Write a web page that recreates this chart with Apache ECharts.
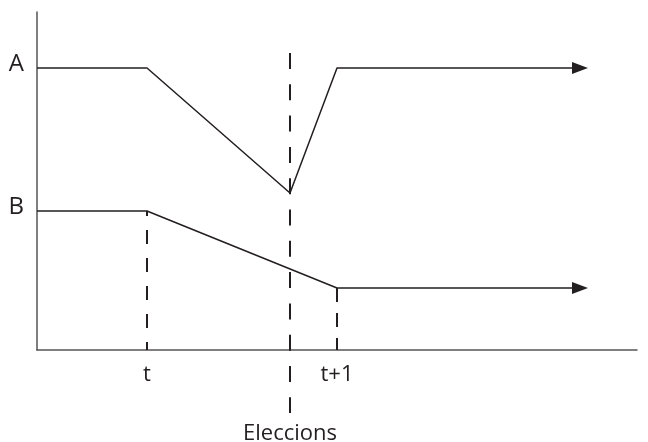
<!DOCTYPE html>
<html>
<head>
<meta charset="utf-8">
<script src="https://cdn.jsdelivr.net/npm/echarts@6/dist/echarts.min.js"></script>
<style>html,body{margin:0;padding:0;background:#fff}#c{width:648px;height:442px}</style>
</head>
<body>
<div id="c"></div>
<script>
// Data (chart units)
const seriesNames = ['A', 'B'];
const lineA = [[0, 28.2], [11, 28.2], [25.3, 15.7], [30, 28.2], [54.3, 28.2]];
const lineB = [[0, 13.9], [11, 13.9], [30, 6.2], [54.3, 6.2]];
const markerNames = ['t', 'Eleccions', 't+1'];
const markerX = [11, 25.3, 30];
const markerTop = [13.9, 29.7, 6.2];
const markerBottom = [0, -6.3, 0];

const INK = '#231f20';
const FONT = 'Open Sans';

function arrowLine(name, pts) {
  return {
    type: 'line', name: name, silent: true, clip: false,
    symbol: 'circle', symbolSize: 0.1, showSymbol: true,
    lineStyle: { color: INK, width: 1.5 },
    itemStyle: { color: INK },
    data: pts.map(function (p, i) {
      const item = { value: p };
      if (i === 0) {
        item.label = { show: true, position: 'left', distance: 13, formatter: name,
          fontFamily: FONT, fontSize: 24, color: INK, offset: [0, -4] };
      }
      if (i === pts.length - 1) {
        item.symbol = 'triangle'; item.symbolSize = [12, 16]; item.symbolRotate = -90;
      }
      return item;
    })
  };
}

const dashStyles = [
  { dash: [14, 14], offset: 9 },
  { dash: [16, 15.3], offset: 0 },
  { dash: [14, 11], offset: 0 }
];

const dashSeries = markerNames.map(function (n, i) {
  return {
    type: 'line', silent: true, clip: false, symbol: 'circle', symbolSize: 0.1, showSymbol: true,
    itemStyle: { color: INK },
    lineStyle: { color: INK, width: 2, type: dashStyles[i].dash, dashOffset: dashStyles[i].offset },
    data: [
      { value: [markerX[i], markerTop[i]] },
      { value: [markerX[i], markerBottom[i]],
        label: { show: true, position: 'bottom', distance: i === 1 ? 10 : 14, formatter: n,
          fontFamily: FONT, fontSize: 22, color: INK } }
    ]
  };
});

const chart = echarts.init(document.getElementById('c'), null, { renderer: 'canvas' });
chart.setOption({
  animation: false,
  backgroundColor: '#fff',
  grid: { left: 37, right: 11, top: 12, bottom: 92 },
  xAxis: {
    type: 'value', min: 0, max: 60,
    axisLine: { show: true, lineStyle: { color: '#555', width: 1.5 } },
    axisTick: { show: false }, axisLabel: { show: false }, splitLine: { show: false }
  },
  yAxis: {
    type: 'value', min: 0, max: 33.8,
    axisLine: { show: true, lineStyle: { color: '#555', width: 1.5 } },
    axisTick: { show: false }, axisLabel: { show: false }, splitLine: { show: false }
  },
  series: [arrowLine(seriesNames[0], lineA), arrowLine(seriesNames[1], lineB)].concat(dashSeries)
});
</script>
</body>
</html>
